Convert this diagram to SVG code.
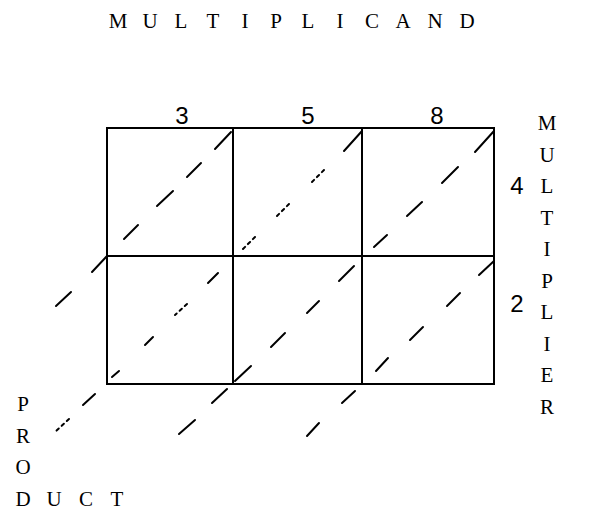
<svg xmlns="http://www.w3.org/2000/svg" width="608" height="514" viewBox="0 0 608 514">
<style>
.cell{fill:none;stroke:#000;stroke-width:2}
.d{stroke:#000;stroke-width:2;stroke-linecap:round}
.dot{stroke:#000;stroke-width:2;stroke-dasharray:3 4;stroke-linecap:round}
.lbl{font-family:"Liberation Serif","Times New Roman",serif;font-size:21px;fill:#000;text-anchor:middle}
.dig{font-family:"Liberation Sans",Arial,sans-serif;font-size:24px;fill:#000;text-anchor:middle}
</style>
<rect width="608" height="514" fill="#fff"/>
<g id="cell-r1c1"><rect class="cell" x="107" y="128" width="126" height="128"/></g>
<g id="cell-r1c2"><rect class="cell" x="233" y="128" width="129" height="128"/></g>
<g id="cell-r1c3"><rect class="cell" x="362" y="128" width="132" height="128"/></g>
<g id="cell-r2c1"><rect class="cell" x="107" y="256" width="126" height="128"/></g>
<g id="cell-r2c2"><rect class="cell" x="233" y="256" width="129" height="128"/></g>
<g id="cell-r2c3"><rect class="cell" x="362" y="256" width="132" height="128"/></g>
<g id="connectors">
<g id="diag-a">
<line class="d" x1="231" y1="132" x2="215" y2="149"/>
<line class="d" x1="201" y1="163" x2="187" y2="177"/>
<line class="d" x1="173" y1="191" x2="157" y2="206"/>
<line class="d" x1="138" y1="225" x2="124" y2="239"/>
<line class="d" x1="107" y1="256" x2="92" y2="272"/>
<line class="d" x1="71" y1="292" x2="56" y2="306"/>
</g>
<g id="diag-b">
<line class="d" x1="362" y1="131" x2="344" y2="151"/>
<line class="dot" x1="324" y1="170" x2="311" y2="183"/>
<line class="dot" x1="289" y1="204" x2="275" y2="218"/>
<line class="dot" x1="255" y1="237" x2="243" y2="249"/>
<line class="d" x1="218" y1="273" x2="208" y2="283"/>
<line class="dot" x1="187" y1="304" x2="175" y2="315"/>
<line class="d" x1="153" y1="337" x2="145" y2="345"/>
<line class="d" x1="119" y1="371" x2="112" y2="377"/>
<line class="d" x1="95" y1="394" x2="83" y2="405"/>
<line class="dot" x1="69" y1="419" x2="54" y2="433"/>
</g>
<g id="diag-c">
<line class="d" x1="494" y1="131" x2="475" y2="152"/>
<line class="d" x1="458" y1="167" x2="442" y2="183"/>
<line class="d" x1="422" y1="202" x2="407" y2="216"/>
<line class="d" x1="387" y1="235" x2="374" y2="247"/>
<line class="d" x1="354" y1="266" x2="339" y2="281"/>
<line class="d" x1="319" y1="301" x2="307" y2="313"/>
<line class="d" x1="285" y1="333" x2="271" y2="347"/>
<line class="d" x1="251" y1="366" x2="235" y2="381"/>
<line class="d" x1="227" y1="389" x2="212" y2="403"/>
<line class="d" x1="195" y1="420" x2="179" y2="434"/>
</g>
<g id="diag-d">
<line class="d" x1="494" y1="261" x2="479" y2="275"/>
<line class="d" x1="460" y1="293" x2="447" y2="306"/>
<line class="d" x1="423" y1="327" x2="410" y2="340"/>
<line class="d" x1="388" y1="358" x2="376" y2="371"/>
<line class="d" x1="355" y1="391" x2="342" y2="403"/>
<line class="d" x1="319" y1="423" x2="307" y2="436"/>
</g>
</g>
<g id="label-multiplicand">
<text class="lbl" x="118 150 181 213 245 276 308 340 372 403 435 467" y="28">MULTIPLICAND</text>
</g>
<g id="label-digits">
<text class="dig" x="182" y="124">3</text>
<text class="dig" x="308" y="124">5</text>
<text class="dig" x="437" y="124">8</text>
<text class="dig" x="517" y="194">4</text>
<text class="dig" x="517" y="312">2</text>
</g>
<g id="label-multiplier">
<text class="lbl" x="547" y="130">M</text>
<text class="lbl" x="547" y="161.5">U</text>
<text class="lbl" x="547" y="193">L</text>
<text class="lbl" x="547" y="224.5">T</text>
<text class="lbl" x="547" y="256">I</text>
<text class="lbl" x="547" y="287.5">P</text>
<text class="lbl" x="547" y="319">L</text>
<text class="lbl" x="547" y="350.5">I</text>
<text class="lbl" x="547" y="382">E</text>
<text class="lbl" x="547" y="413.5">R</text>
</g>
<g id="label-product">
<text class="lbl" x="23" y="411">P</text>
<text class="lbl" x="23" y="442.5">R</text>
<text class="lbl" x="23" y="474">O</text>
<text class="lbl" x="23 54 86 117" y="505.5">DUCT</text>
</g>
</svg>
